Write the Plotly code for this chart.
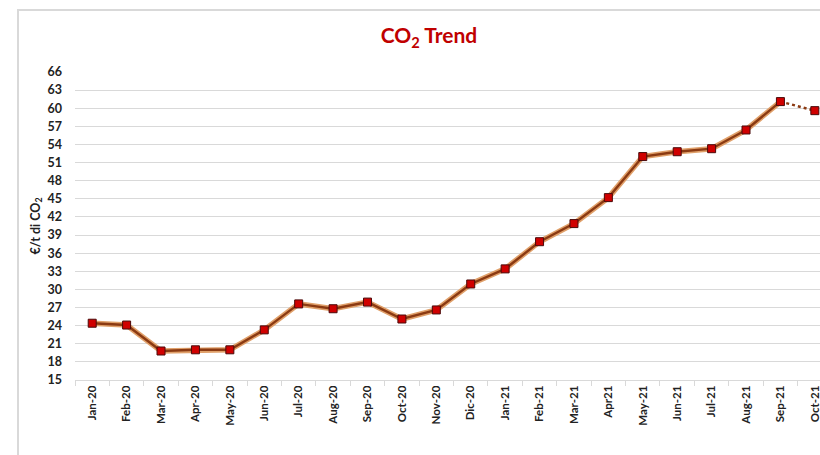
import plotly.graph_objects as go

months = ["Jan-20", "Feb-20", "Mar-20", "Apr-20", "May-20", "Jun-20", "Jul-20",
          "Aug-20", "Sep-20", "Oct-20", "Nov-20", "Dic-20", "Jan-21", "Feb-21",
          "Mar-21", "Apr21", "May-21", "Jun-21", "Jul-21", "Aug-21", "Sep-21", "Oct-21"]
prices = [24.4, 24.1, 19.8, 20.0, 20.0, 23.3, 27.6, 26.8, 27.9, 25.1, 26.6,
          30.9, 33.4, 37.9, 40.9, 45.2, 52.0, 52.8, 53.3, 56.4, 61.1, 59.6]
y_ticks = list(range(15, 67, 3))

FONT = "Lato, Open Sans, sans-serif"
solid_x, solid_y = months[:-1], prices[:-1]
dot_x, dot_y = months[-2:], prices[-2:]

W, H = 820, 455

fig = go.Figure()
# light halo under the line
fig.add_scatter(x=solid_x, y=solid_y, mode="lines", hoverinfo="skip",
                line=dict(color="#E0A06A", width=5.5), showlegend=False)
fig.add_scatter(x=solid_x, y=solid_y, mode="lines",
                line=dict(color="#8B3A12", width=2.4), showlegend=False)
fig.add_scatter(x=dot_x, y=dot_y, mode="lines",
                line=dict(color="#8B3A12", width=2.5, dash="dot"), showlegend=False)
fig.add_scatter(x=months, y=prices, mode="markers", cliponaxis=False,
                marker=dict(symbol="square", size=8, color="#D00000",
                            line=dict(color="#4A0A0A", width=1)),
                showlegend=False)

# outer chart border (Excel-style frame)
fig.add_shape(type="rect", xref="paper", yref="paper",
              x0=-0.0765, x1=1.05, y0=-0.4, y1=1.201,
              line=dict(color="#D9D9D9", width=2), layer="below")

fig.update_layout(
    width=W, height=H,
    margin=dict(l=75, r=0, t=72, b=75, autoexpand=False),
    paper_bgcolor="white", plot_bgcolor="white",
    font=dict(family=FONT, color="#222222"),
    title=dict(text="CO<sub>2</sub> Trend", x=429 / W, xanchor="center",
               y=1 - 36 / H, yanchor="middle", automargin=False,
               font=dict(family=FONT, size=21, color="#C00000", weight="bold")),
    xaxis=dict(
        type="category", range=[-0.5, 21.15], tickangle=-90, automargin=False,
        showgrid=False, showline=True, linecolor="#D9D9D9", linewidth=1,
        ticks="outside", tickson="boundaries", ticklen=5, tickcolor="#D9D9D9",
        tickfont=dict(size=11.5, weight="bold", color="#222222"),
    ),
    yaxis=dict(
        range=[15, 66], tickvals=y_ticks, showgrid=True, gridcolor="#D9D9D9",
        gridwidth=1, zeroline=False, ticklabelstandoff=12, automargin=False,
        tickfont=dict(size=12.5, weight="bold", color="#222222"),
        title=dict(text="€/t di CO<sub>2</sub>", standoff=4,
                   font=dict(size=12.5, weight="bold", color="#222222")),
    ),
)

# drop the default 8px page margin so the figure fills the window exactly
fig.write_html("out.html", config={"displayModeBar": False},
               post_script="document.body.style.margin='0';"
                           "document.body.style.overflow='hidden';")
